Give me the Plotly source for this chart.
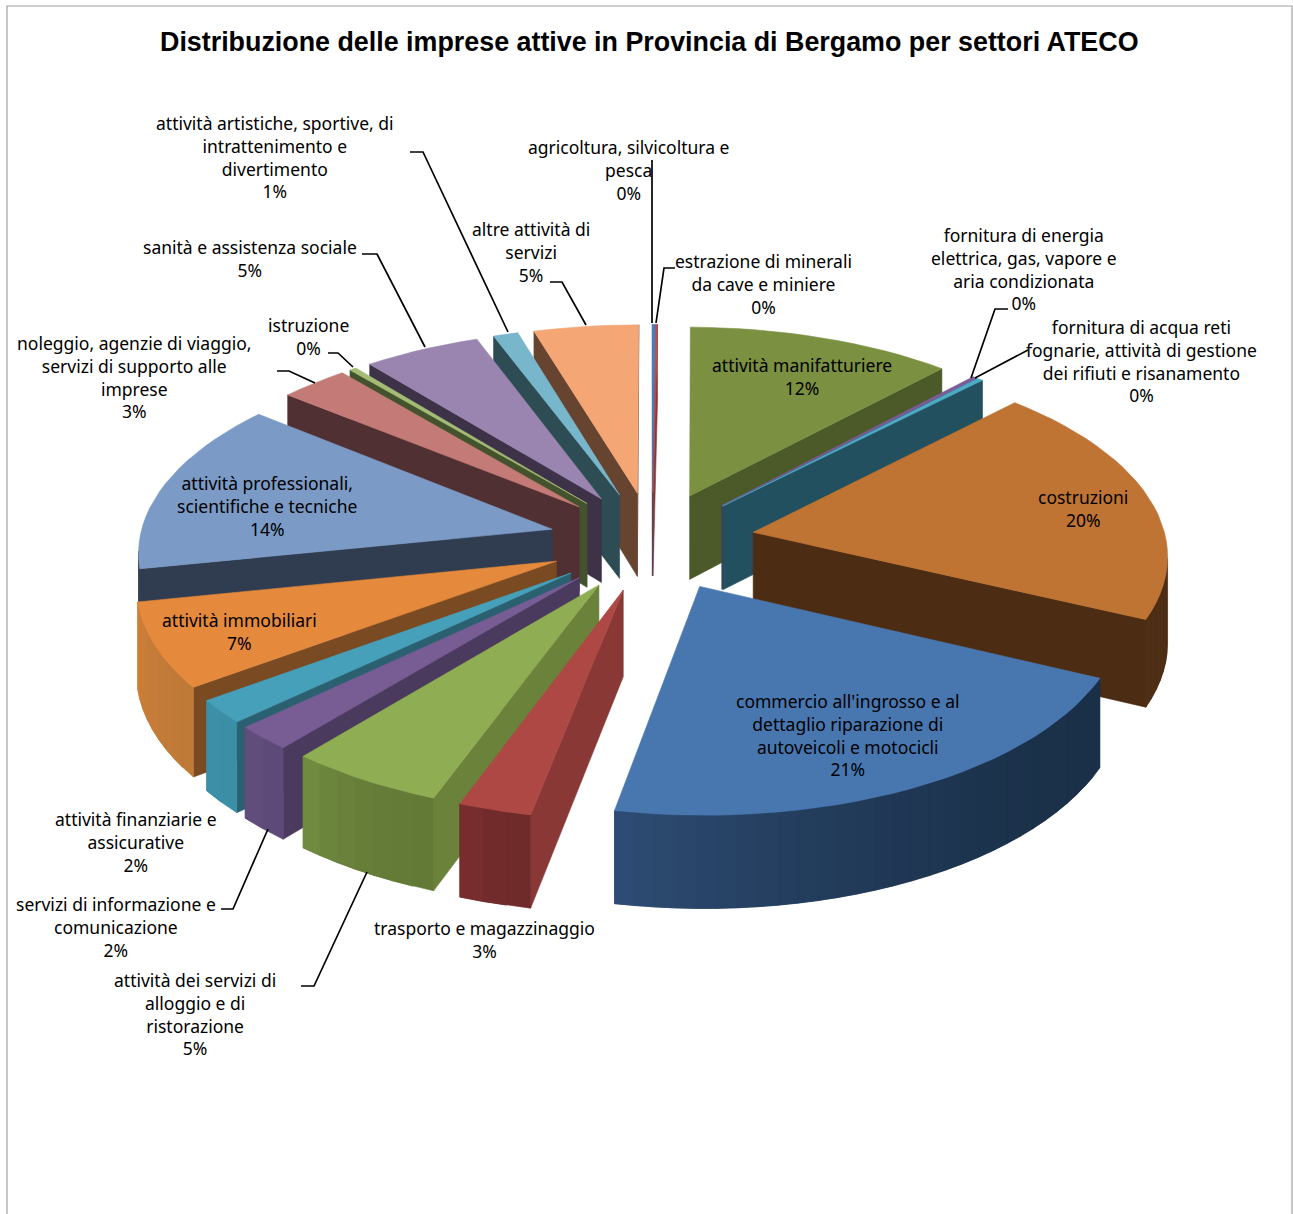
import math
import plotly.graph_objects as go

# Sector shares (percent), clockwise from twelve o'clock
sectors = [
    "agricoltura", "estrazione", "manifattura", "energia", "acqua", "costruzioni",
    "commercio", "trasporto", "alloggio", "informazione", "finanza", "immobiliari",
    "professionali", "noleggio", "istruzione", "sanita", "artistiche", "altre",
]
shares = [0.13, 0.07, 11.75, 0.2, 0.25, 19.5, 21.1, 2.55, 5.45, 2.0, 1.9, 6.8, 13.9, 3.0, 0.3, 5.15, 1.1, 4.65]

top_colors = ["#4a7ebb", "#be4b48", "#7b9040", "#7a5c98", "#4bacc6", "#bf7433", "#4877b0", "#ae4845", "#8fad52",
              "#785c94", "#46a0ba", "#e5893d", "#7b9ac6", "#c47a76", "#a4bc74", "#9a84b0", "#78b6cc", "#f4a674"]
cut_colors = ["#2c4a70", "#8c3836", "#4b5a28", "#4a3a60", "#23505e", "#4c2c13", "#1a3048", "#8a3836", "#6b823a",
              "#4a3a5e", "#2a6070", "#7a4a22", "#303c50", "#503032", "#44522e", "#3e3248", "#2e4c54", "#664430"]
rim_start = ["#2c4a70", "#8c3836", "#4b5a28", "#4a3a60", "#23505e", "#4c2c13", "#1a3048", "#6f2a2a", "#637a36",
             "#5e4a78", "#3a8ea6", "#c07a38", "#303c50", "#503032", "#44522e", "#3e3248", "#2e4c54", "#664430"]
rim_end = ["#2c4a70", "#8c3836", "#4b5a28", "#4a3a60", "#23505e", "#4e2e14", "#2e4c74", "#7a2e2e", "#728c42",
           "#64507e", "#3e90a8", "#d0803a", "#303c50", "#503032", "#44522e", "#3e3248", "#2e4c54", "#664430"]

# Data labels: text, centre x, centre y
labels = [
    ("attività artistiche, sportive, di<br>intrattenimento e<br>divertimento<br>1%", 275, 157),
    ("agricoltura, silvicoltura e<br>pesca<br>0%", 628, 170),
    ("altre attività di<br>servizi<br>5%", 531, 252),
    ("estrazione di minerali<br>da cave e miniere<br>0%", 763, 284),
    ("fornitura di energia<br>elettrica, gas, vapore e<br>aria condizionata<br>0%", 1024, 269),
    ("fornitura di acqua reti<br>fognarie, attività di gestione<br>dei rifiuti e risanamento<br>0%", 1141, 361),
    ("sanità e assistenza sociale<br>5%", 250, 258),
    ("istruzione<br>0%", 308, 336),
    ("noleggio, agenzie di viaggio,<br>servizi di supporto alle<br>imprese<br>3%", 134, 377),
    ("attività manifatturiere<br>12%", 802, 376),
    ("costruzioni<br>20%", 1083, 508),
    ("attività professionali,<br>scientifiche e tecniche<br>14%", 267, 505.5),
    ("attività immobiliari<br>7%", 239, 631),
    ("commercio all'ingrosso e al<br>dettaglio riparazione di<br>autoveicoli e motocicli<br>21%", 848, 735),
    ("attività finanziarie e<br>assicurative<br>2%", 136, 842),
    ("servizi di informazione e<br>comunicazione<br>2%", 116, 927),
    ("trasporto e magazzinaggio<br>3%", 484, 939),
    ("attività dei servizi di<br>alloggio e di<br>ristorazione<br>5%", 195, 1013.5),
]

# Leader lines from labels to their slices
leaders = [
    [(410, 152), (423, 152), (508, 332)],
    [(652, 160), (652, 323)],
    [(675, 268), (664, 268), (656, 323)],
    [(1008, 309), (995, 309), (971, 378)],
    [(1028, 350), (975, 378)],
    [(550, 282), (562, 282), (586, 325)],
    [(362, 254), (377, 254), (425, 347)],
    [(328, 353), (338, 353), (353, 367)],
    [(277, 371), (289, 371), (315, 383)],
    [(221, 909), (233, 909), (268, 829)],
    [(301, 986), (314, 986), (367, 872)],
]

# Pie projection parameters
CX, CY = 652, 541
SX, SY = 413, 199
KX, KY = 0.10, 0.1036
H, KH = 85, 0.08
EXPLODE = 0.25


def project(x, y, z=0.0):
    return (CX + x * SX * (1 - KX * y),
            CY - y * SY * (1 - KY * y) + z * H * (1 - KH * y))


def rgb(c):
    return [int(c[i:i + 2], 16) for i in (1, 3, 5)]


def mix(a, b, t):
    ca, cb = rgb(a), rgb(b)
    return "rgb(%d,%d,%d)" % tuple(round(p + (q - p) * t) for p, q in zip(ca, cb))


def area(pts):
    return sum(pts[i][0] * pts[(i + 1) % len(pts)][1] - pts[(i + 1) % len(pts)][0] * pts[i][1]
               for i in range(len(pts)))


def poly(fig, pts, color):
    xs = [p[0] for p in pts] + [pts[0][0]]
    ys = [p[1] for p in pts] + [pts[0][1]]
    fig.add_trace(go.Scatter(x=xs, y=ys, mode="lines", fill="toself", fillcolor=color,
                             line=dict(color=color, width=0.6), hoverinfo="skip", showlegend=False))


total = sum(shares)
slices = []
acc = 0.0
for i, v in enumerate(shares):
    a0 = acc / total * 2 * math.pi
    acc += v
    a1 = acc / total * 2 * math.pi
    mid = (a0 + a1) / 2
    tip = (EXPLODE * math.sin(mid), EXPLODE * math.cos(mid))
    slices.append((tip[1], i, a0, a1, tip))

fig = go.Figure()

# Painter's order: slices further back first
for _, i, a0, a1, tip in sorted(slices, key=lambda s: -s[0]):
    n = max(1, int((a1 - a0) / math.radians(2.5)))
    rim = []
    for k in range(n + 1):
        a = a0 + (a1 - a0) * k / n
        rim.append((tip[0] + math.sin(a), tip[1] + math.cos(a)))
    # Cut faces
    for w0, w1 in ((tip, rim[0]), (rim[-1], tip)):
        q = [project(*w0), project(*w1), project(*w1, 1), project(*w0, 1)]
        if area(q) < 0:
            poly(fig, q, cut_colors[i])
    # Outer rim, shaded along its arc; each strip runs under the next so no seams show
    visible = [k for k in range(n)
               if area([project(*rim[k]), project(*rim[k + 1]), project(*rim[k + 1], 1), project(*rim[k], 1)]) < 0]
    for k in visible:
        end = min(k + 2, visible[-1] + 1)
        arc = rim[k:end + 1]
        q = [project(*p) for p in arc] + [project(*p, 1) for p in reversed(arc)]
        t = ((k + 0.5) / n) ** 2
        poly(fig, q, mix(rim_start[i], rim_end[i], t))
    # Top face
    poly(fig, [project(*tip)] + [project(*p) for p in rim], top_colors[i])

for path in leaders:
    fig.add_trace(go.Scatter(x=[p[0] for p in path], y=[p[1] for p in path], mode="lines",
                             line=dict(color="black", width=1.7), hoverinfo="skip", showlegend=False))

annotations = [dict(x=x, y=y, text=t, xref="x", yref="y", showarrow=False, xanchor="center", yanchor="middle",
                    align="center", font=dict(family="Noto Sans", size=17.5, color="black"))
               for t, x, y in labels]
annotations.append(dict(x=649.5, y=42, xref="x", yref="y", showarrow=False, xanchor="center", yanchor="middle",
                        text="<b>Distribuzione delle imprese attive in Provincia di Bergamo per settori ATECO</b>",
                        font=dict(family="Liberation Sans", size=26.85, color="black")))

frame = dict(type="path", path="M 7 1214 L 7 6 L 1292 6 L 1292 1214", xref="x", yref="y",
             line=dict(color="#a0a0a0", width=1.2))

fig.update_layout(
    width=1293, height=1214, margin=dict(l=0, r=0, t=0, b=0),
    paper_bgcolor="white", plot_bgcolor="white", showlegend=False,
    xaxis=dict(range=[0, 1293], visible=False, fixedrange=True),
    yaxis=dict(range=[1214, 0], visible=False, fixedrange=True),
    annotations=annotations, shapes=[frame],
)

fig.write_html("out.html", config=dict(displayModeBar=False))
